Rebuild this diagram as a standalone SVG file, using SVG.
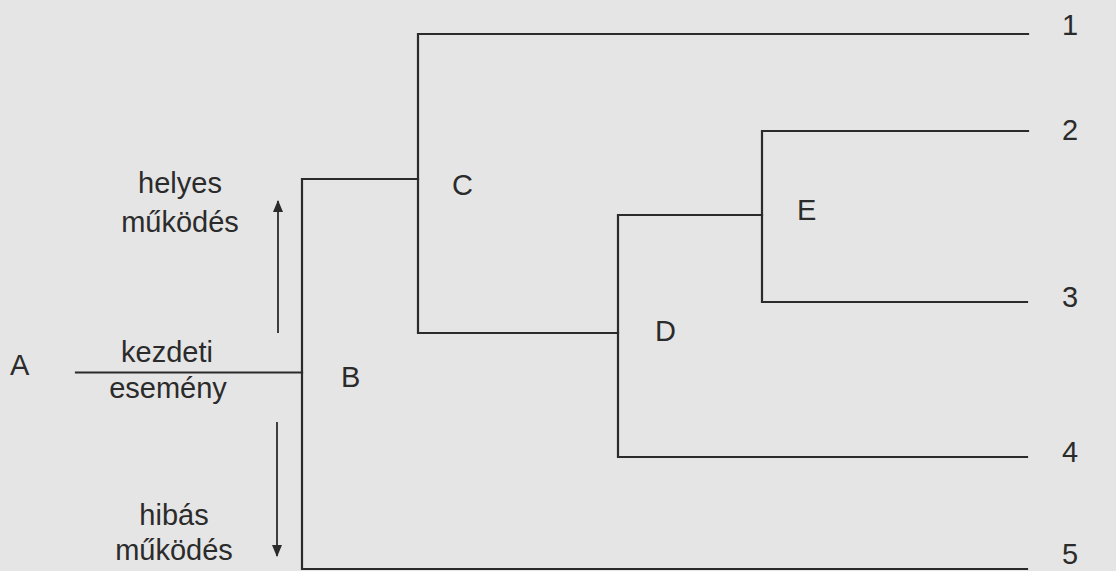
<svg xmlns="http://www.w3.org/2000/svg" width="1116" height="571" viewBox="0 0 1116 571">
<style>
.ln{fill:none;stroke:#2b2b2b;stroke-width:2.2;stroke-linecap:square}
.ar{stroke:#2b2b2b;stroke-width:1.8}
.t{font-family:"Liberation Sans",Arial,sans-serif;font-size:29px;fill:#2b2b2b}
.c{text-anchor:middle}
</style>
<defs>
<marker id="ah" markerWidth="12" markerHeight="10" refX="11" refY="5" orient="auto" markerUnits="userSpaceOnUse" viewBox="0 0 12 10">
<path d="M0,0 L12,5 L0,10 Z" fill="#2b2b2b"/>
</marker>
</defs>
<rect width="1116" height="571" fill="#e5e5e5"/>
<g id="connectors">
<path class="ln" d="M76,372.5 H302"/>
<path class="ln" d="M418,179 H302 V569 H1027"/>
<path class="ln" d="M1028,34 H418 V333 H618"/>
<path class="ln" d="M762,215 H618 V457 H1027"/>
<path class="ln" d="M1028,131 H762 V302 H1027"/>
<line class="ar" x1="278" y1="333" x2="278" y2="201" marker-end="url(#ah)"/>
<line class="ar" x1="277" y1="422" x2="277" y2="556" marker-end="url(#ah)"/>
</g>
<g id="node-A"><text class="t" x="10" y="375">A</text></g>
<g id="node-B"><text class="t" x="341" y="387">B</text></g>
<g id="node-C"><text class="t" x="452" y="195">C</text></g>
<g id="node-D"><text class="t" x="655" y="341">D</text></g>
<g id="node-E"><text class="t" x="797" y="220">E</text></g>
<g id="label-helyes"><text class="t c" x="180" y="193">helyes</text><text class="t c" x="180" y="232">működés</text></g>
<g id="label-kezdeti"><text class="t c" x="167" y="362">kezdeti</text><text class="t c" x="168" y="398">esemény</text></g>
<g id="label-hibas"><text class="t c" x="174" y="525">hibás</text><text class="t c" x="174" y="560">működés</text></g>
<g id="outcomes">
<text class="t" x="1062" y="35">1</text>
<text class="t" x="1062" y="140">2</text>
<text class="t" x="1062" y="307">3</text>
<text class="t" x="1062" y="462">4</text>
<text class="t" x="1062" y="564">5</text>
</g>
</svg>
